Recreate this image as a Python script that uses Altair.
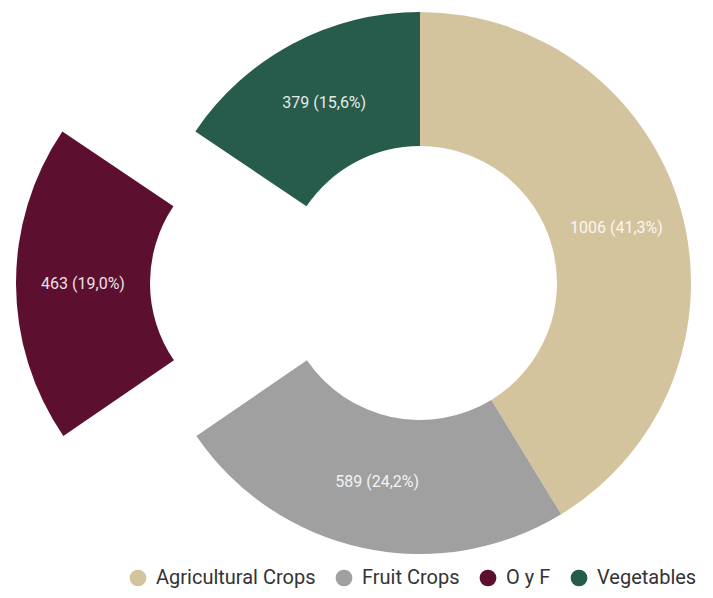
import altair as alt
import pandas as pd

categories = ["Agricultural Crops", "Fruit Crops", "O y F", "Vegetables"]
values = [1006, 589, 463, 379]
colors = ["#d4c49e", "#a0a0a0", "#5c0f2f", "#275b4b"]
exploded = "O y F"

df = pd.DataFrame({"category": categories, "value": values})
total = sum(values)

CX, CY = 412, 275
R_OUT, R_IN = 271, 137
R_LAB = 204
EXPLODE = -133

base = (
    alt.Chart(df)
    .transform_joinaggregate(total="sum(value)")
    .transform_stack(
        stack="value",
        groupby=[],
        as_=["v0", "v1"],
        sort=[alt.SortField("category", order="ascending")],
    )
    .transform_calculate(
        mid="(datum.v0 + datum.v1) / 2",
        label="datum.value + ' (' + replace(format(datum.value / datum.total * 100, '.1f'), '.', ',') + '%)'",
    )
)

color = alt.Color(
    "category:N",
    scale=alt.Scale(domain=categories, range=colors),
    legend=alt.Legend(
        title=None,
        orient="none",
        legendX=120,
        legendY=560,
        direction="horizontal",
        symbolType="circle",
        symbolSize=280,
        symbolStrokeWidth=0,
        labelFontSize=20,
        labelFont="Roboto",
        labelColor="#333333",
        columnPadding=18,
        labelOffset=8,
    ),
)

theta_scale = alt.Scale(domain=[0, total], range=[0, 6.283185307179586])
theta = alt.Theta("v0:Q", stack=None, scale=theta_scale)
theta2 = alt.Theta2("v1:Q")

arcs = (
    base.transform_filter(alt.datum.category != exploded)
    .mark_arc(radius=R_OUT, radius2=R_IN, x=CX, y=CY)
    .encode(theta=theta, theta2=theta2, color=color)
)
arc_ex = (
    base.transform_filter(alt.datum.category == exploded)
    .mark_arc(radius=R_OUT, radius2=R_IN, x=CX, y=CY, xOffset=EXPLODE)
    .encode(theta=theta, theta2=theta2, color=color)
)

txt_style = dict(radius=R_LAB, x=CX, y=CY, font="Roboto", fontSize=16,
                 color="#ffffff", opacity=0.88, align="center", baseline="middle")
text_theta = alt.Theta("mid:Q", stack=None, scale=theta_scale)
texts = (
    base.transform_filter(alt.datum.category != exploded)
    .mark_text(**txt_style)
    .encode(theta=text_theta, text="label:N")
)
text_ex = (
    base.transform_filter(alt.datum.category == exploded)
    .mark_text(xOffset=EXPLODE, **txt_style)
    .encode(theta=text_theta, text="label:N")
)

chart = (
    alt.layer(arcs, arc_ex, texts, text_ex)
    .properties(width=697, height=582, autosize=alt.AutoSizeParams(type="none"), padding=0)
    .configure_view(stroke=None)
)

chart.save("out.html", embed_options={"renderer": "svg", "actions": False})
